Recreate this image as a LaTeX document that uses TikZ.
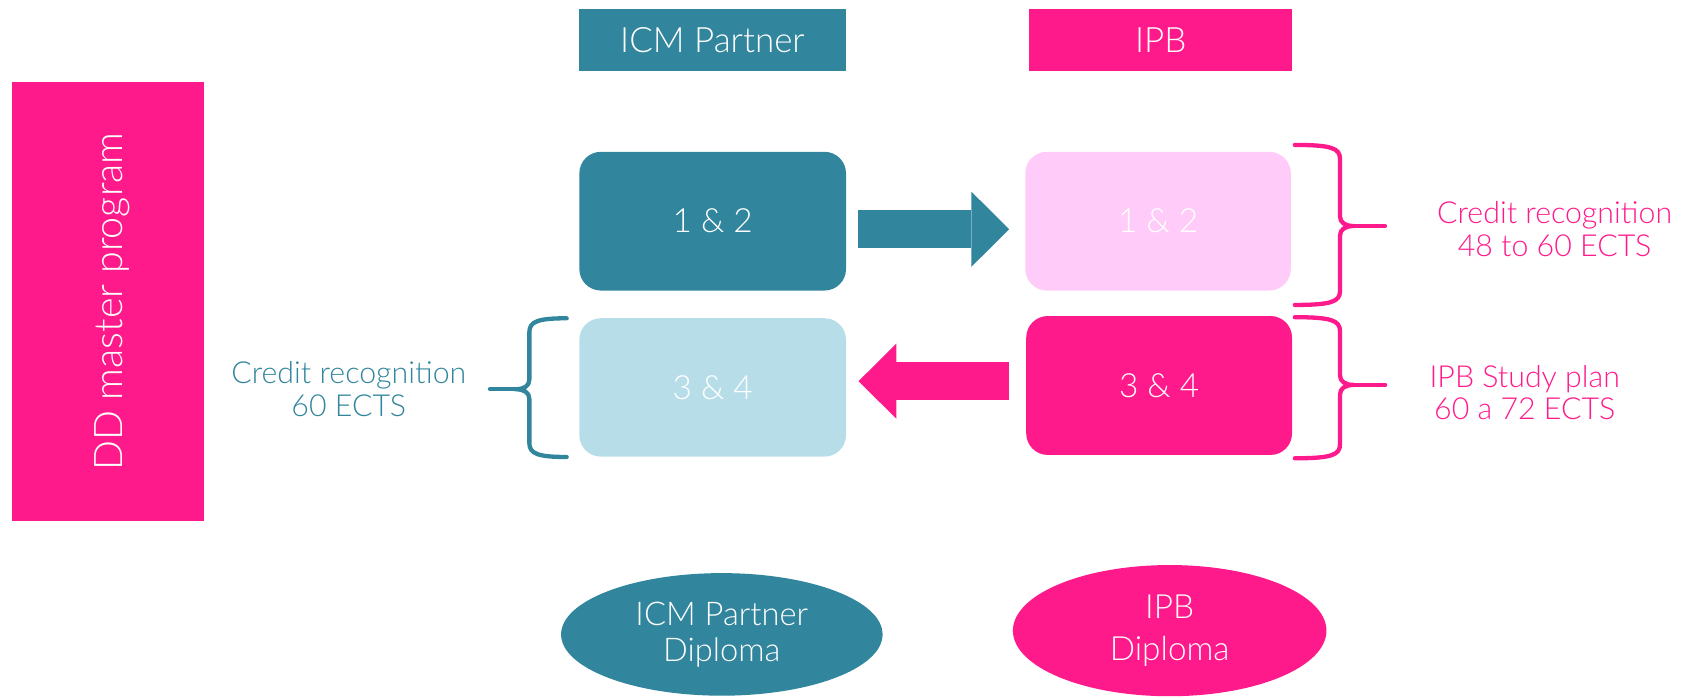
\documentclass[tikz,border=0pt]{standalone}
\usepackage{fontspec}
\setmainfont{Lato}[UprightFont=* Light]
\usetikzlibrary{arrows.meta,calc,shapes.geometric}
\definecolor{icmteal}{HTML}{31859C}
\definecolor{ipbpink}{HTML}{FF1A8C}
\definecolor{lightpink}{HTML}{FFCBF9}
\definecolor{lightblue}{HTML}{B7DEE8}
\newcommand{\BraceShape}[4]{%
  \draw[bracestyle] (-#1,-#3) .. controls (-8,-#3) and (0,-#3+3) .. (0,-#3+13)
    -- (0,-9) .. controls (0,-3) and (5,0) .. (13,0)
    .. controls (5,0) and (0,3) .. (0,9)
    -- (0,#4-13) .. controls (0,#4-3) and (-8,#4) .. (-#1,#4);
  \draw[bracestyle] (13,0) -- (#2,0);
}
\begin{document}
\begin{tikzpicture}[x=0.5bp,y=-0.5bp,
  box/.style={rectangle, rounded corners=10bp, minimum width=124bp, minimum height=64.5bp,
    inner sep=0, text=white, font=\fontsize{15.5bp}{18bp}\selectfont},
  hdr/.style={rectangle, minimum height=28.65bp, inner sep=0, text=white,
    font=\fontsize{16.25bp}{19bp}\selectfont},
  diploma/.style={ellipse, inner sep=0, text=white, align=center},
  lbl/.style={align=center, inner sep=0, anchor=north, font=\fontsize{14.1bp}{15.3bp}\selectfont},
  bracestyle/.style={line width=2bp, line cap=round, line join=round},
  blockarrow/.style={line width=17.6bp, -{Triangle[length=17.6bp, width=34.9bp, line width=0pt]}}
]
\useasboundingbox (0,0) rectangle (1568,647.3);

% left vertical banner
\node[rectangle, fill=ipbpink, rotate=90, minimum width=204.35bp, minimum height=89.25bp,
  inner sep=0, text=white, text depth=0pt, font=\fontsize{18.35bp}{22bp}\selectfont]
  (dd) at (100.5,280.6) {DD master program};

% headers
\node[hdr, fill=icmteal, minimum width=124.15bp] (hicm) at (662.6,37) {ICM Partner};
\node[hdr, fill=ipbpink, minimum width=122.5bp] (hipb) at (1079.5,37) {IPB};

% semester boxes
\node[box, fill=icmteal] (t12) at (662.8,205.7) {1 \& 2};
\node[box, fill=lightpink, minimum width=123.5bp] (p12) at (1077,205.7) {1 \& 2};
\node[box, fill=lightblue, minimum height=64.35bp] (b34) at (662.8,360.3) {3 \& 4};
\node[box, fill=ipbpink, minimum width=123.6bp, minimum height=64.6bp] (p34) at (1078,358.5) {3 \& 4};

% block arrows
\coordinate (ra1) at ($(t12.east)+(11.1,7.5)$);
\coordinate (ra2) at ($(p12.west)+(-14.5,0)$);
\draw[blockarrow, icmteal] (ra1) -- (ra1 -| ra2);
\coordinate (la1) at ($(p34.west)+(-15.4,-4)$);
\coordinate (la2) at ($(b34.east)+(11.2,0)$);
\draw[blockarrow, ipbpink] (la1) -- (la1 -| la2);

% braces
\begin{scope}[shift={(1246.2,210.2)}, color=ipbpink]
  \BraceShape{42}{41.8}{75.4}{73.4}
\end{scope}
\begin{scope}[shift={(1246.2,358)}, color=ipbpink]
  \BraceShape{42}{42}{63}{68.2}
\end{scope}
\begin{scope}[shift={(492.3,362)}, xscale=-1, color=icmteal]
  \BraceShape{34.7}{36.6}{66}{63}
\end{scope}

% labels
\node[lbl, text=icmteal] (lcr) at (324.4,335.6) {Credit recognition\\60 ECTS};
\node[lbl, text=ipbpink] (rcr) at (1445.8,186.8) {Credit recognition\\48 to 60 ECTS};
\node[lbl, text=ipbpink] (rsp) at (1418,339) {IPB Study plan\\60 a 72 ECTS};

% diplomas
\node[diploma, fill=icmteal, minimum width=149.5bp, minimum height=57bp,
  font=\fontsize{15.2bp}{16.75bp}\selectfont] (eicm) at (671.3,590) {ICM Partner\\Diploma};
\node[diploma, fill=ipbpink, minimum width=145.8bp, minimum height=61bp,
  font=\fontsize{15.5bp}{19.6bp}\selectfont] (eipb) at (1087.8,586.5) {IPB\\Diploma};
\end{tikzpicture}
\end{document}
